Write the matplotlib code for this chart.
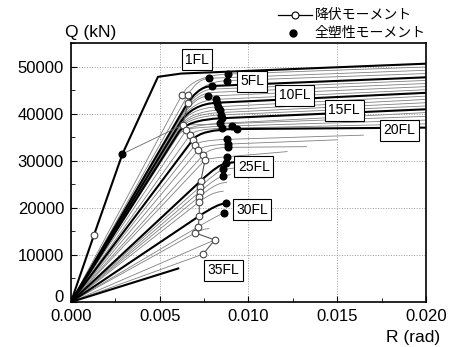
import numpy as np
import matplotlib
matplotlib.use("Agg")
import matplotlib.pyplot as plt
from matplotlib.path import Path
from matplotlib.patches import PathPatch
from matplotlib.lines import Line2D
from matplotlib.ticker import MultipleLocator, FuncFormatter

plt.rcParams['font.family'] = ['Liberation Sans', 'Noto Sans CJK JP']

# 1FL curve (drawn as a plain polyline)
r_1fl = [0.0, 0.0013, 0.0029, 0.0049, 0.0062, 0.020]
q_1fl = [0, 14300, 31500, 47900, 48600, 50700]
yield_1fl = (0.0013, 14300)
plastic_1fl = (0.0029, 31500)

# floors 2FL - 35FL: yield point, full plastic point, end of curve
floors = list(range(2, 36))
r_yield = [0.00624, 0.00658, 0.00660, 0.00640, 0.00630, 0.00625, 0.00620, 0.00620,
           0.00615, 0.00615, 0.00610, 0.00610, 0.00610, 0.00605, 0.00605, 0.00630,
           0.00650, 0.00670, 0.00686, 0.00700, 0.00717, 0.00745, 0.00755, 0.00732,
           0.00727, 0.00727, 0.00723, 0.00723, 0.00723, 0.00717, 0.00700, 0.00810,
           0.00745, 0.00610]
q_yield = [44000, 44000, 42400, 41300, 40300, 39700, 39000, 38700,
           38100, 37800, 37200, 36900, 36600, 36000, 35500, 37700,
           36600, 35500, 34500, 33400, 32300, 31300, 30200, 25800,
           24500, 23500, 22400, 21300, 18300, 16000, 14700, 13200,
           10200, 7200]
r_plastic = [0.00886, 0.00780, 0.00880, 0.00792, 0.00800, 0.00800, 0.00770, 0.00817,
             0.00824, 0.00830, 0.00840, 0.00840, 0.00845, 0.00849, 0.00840, 0.00850,
             0.00905, 0.00853, 0.00934, 0.00880, 0.00886, 0.00886, 0.00880, 0.00873,
             0.00858, 0.00858, 0.00850, 0.00830, 0.00873, 0.00864, 0.00780, 0.00810,
             0.00745, 0.00610]
q_plastic = [48500, 47600, 47100, 45950, 45300, 44600, 43800, 43100,
             42400, 41550, 40850, 40300, 39800, 39100, 38000, 37900,
             37450, 36950, 36800, 34600, 33600, 32900, 30900, 29500,
             28200, 26800, 25300, 23400, 21000, 18900, 15600, 13200,
             10200, 7200]
r_end = [0.020] * 19 + [0.0165, 0.0150, 0.0133, 0.0122, 0.0103,
                        0.0092, 0.0090, 0.0088, 0.0086, 0.00873, 0.00864, 0.00780,
                        0.00810, 0.00745, 0.00610]
q_end = [50000, 49300, 48600, 47800, 47140, 46480, 45820, 45160,
         44500, 43800, 43100, 42400, 41700, 41000, 40300, 39500,
         38700, 37900, 37100, 35500, 34500, 33050, 32000, 30300,
         28500, 27100, 25500, 23600, 21000, 18900, 15600, 13200,
         10200, 7200]
show_yield = [1, 1, 1, 0, 0, 0, 0, 0, 0, 0, 0, 0, 0, 0, 0, 1,
              1, 1, 1, 1, 1, 1, 1, 1, 1, 1, 1, 1, 1, 1, 1, 1, 1, 0]
show_plastic = [1, 1, 1, 1, 0, 0, 1, 1, 1, 1, 1, 0, 1, 1, 1, 0,
                1, 1, 1, 1, 1, 1, 1, 1, 1, 1, 0, 0, 1, 1, 0, 0, 0, 0]
thick_floors = [5, 10, 15, 20, 25, 30, 35]

labels = ['1FL', '5FL', '10FL', '15FL', '20FL', '25FL', '30FL', '35FL']
label_r = [0.0071, 0.0102, 0.0126, 0.0154, 0.0185, 0.0103, 0.0102, 0.0086]
label_q = [51500, 47000, 44000, 40750, 36500, 28800, 19600, 6800]

fig = plt.figure(figsize=(4.51, 3.47), dpi=100)
ax = fig.add_axes([0.1574, 0.1297, 0.787, 0.745])

# floor curves: straight up to yield, rounded knee to full plastic, then hardening branch
for i, fl in enumerate(floors):
    ry, qy = r_yield[i], q_yield[i]
    rp, qp = r_plastic[i], q_plastic[i]
    re, qe = r_end[i], q_end[i]
    thick = fl in thick_floors
    if rp > ry:
        k = qy / ry
        s = (qe - qp) / (re - rp) if re > rp else 0.0
        rc = min(max((qp - s * rp) / (k - s), ry), rp)
        qc = qp - s * (rp - rc)
        verts = [(0, 0), (ry, qy), (rc, qc), (rp, qp), (re, qe)]
        codes = [Path.MOVETO, Path.LINETO, Path.CURVE3, Path.CURVE3, Path.LINETO]
    else:
        verts = [(0, 0), (ry, qy)]
        codes = [Path.MOVETO, Path.LINETO]
    patch = PathPatch(Path(verts, codes), fill=False,
                      edgecolor='black' if thick else '#808080',
                      lw=1.5 if thick else 0.6, zorder=3 if thick else 2)
    ax.add_patch(patch)

ax.plot(r_1fl, q_1fl, color='black', lw=1.5, zorder=3)

# yield moment markers joined floor to floor
ry_shown = [r for r, f in zip(r_yield, show_yield) if f]
qy_shown = [q for q, f in zip(q_yield, show_yield) if f]
ax.plot(ry_shown, qy_shown, color='#555555', lw=0.8, zorder=4)
ax.plot([plastic_1fl[0], ry_shown[3]], [plastic_1fl[1], qy_shown[3]],
        color='#666666', lw=0.6, zorder=4)
ax.plot(ry_shown + [yield_1fl[0]], qy_shown + [yield_1fl[1]], 'o', ls='none',
        ms=4.8, mfc='white', mec='#444444', mew=0.8, zorder=5)

# full plastic moment markers
rp_shown = [r for r, f in zip(r_plastic, show_plastic) if f] + [plastic_1fl[0]]
qp_shown = [q for q, f in zip(q_plastic, show_plastic) if f] + [plastic_1fl[1]]
ax.plot(rp_shown, qp_shown, 'o', ls='none', ms=4.8, color='black', zorder=5)

for txt, r, q in zip(labels, label_r, label_q):
    ax.text(r, q, txt, fontsize=10, ha='center', va='center', zorder=6,
            bbox=dict(boxstyle='square,pad=0.25', fc='white', ec='black', lw=0.8))

ax.set_xlim(0, 0.02)
ax.set_ylim(0, 55000)
ax.xaxis.set_major_locator(MultipleLocator(0.005))
ax.xaxis.set_minor_locator(MultipleLocator(0.0025))
ax.yaxis.set_major_locator(MultipleLocator(10000))
ax.yaxis.set_minor_locator(MultipleLocator(5000))
ax.xaxis.set_major_formatter(FuncFormatter(lambda v, p: f'{v:.3f}'))
# the "0" on the Q axis is placed by hand, slightly raised
ax.yaxis.set_major_formatter(FuncFormatter(lambda v, p: '' if v == 0 else f'{v:.0f}'))
ax.annotate('0', xy=(0, 0), xycoords=('axes fraction', 'data'), xytext=(-5, 3),
            textcoords='offset points', ha='right', va='center', fontsize=12)
ax.tick_params(which='both', direction='in', top=False, right=False, labelsize=12)
ax.tick_params(which='major', length=4, pad=5)
ax.tick_params(which='minor', length=3)
ax.grid(True, which='major', color='#999999', ls=':', lw=0.7)
for sp in ax.spines.values():
    sp.set_linewidth(1.2)

fig.text(0.144, 0.905, 'Q (kN)', fontsize=12.5, ha='left', va='center')
fig.text(0.976, 0.028, 'R (rad)', fontsize=12.5, ha='right', va='center')

# legend drawn above the plot frame
fig.add_artist(Line2D([0.616, 0.692], [0.957, 0.957], color='black', lw=0.9,
                      transform=fig.transFigure))
fig.add_artist(Line2D([0.654], [0.957], marker='o', ms=5, mfc='white', mec='black',
                      mew=0.8, transform=fig.transFigure))
fig.add_artist(Line2D([0.649], [0.905], marker='o', ms=5, color='black',
                      transform=fig.transFigure))
fig.text(0.698, 0.957, '降伏モーメント', fontsize=10, ha='left', va='center')
fig.text(0.698, 0.905, '全塑性モーメント', fontsize=10, ha='left', va='center')

fig.savefig('out.png', dpi=100)
